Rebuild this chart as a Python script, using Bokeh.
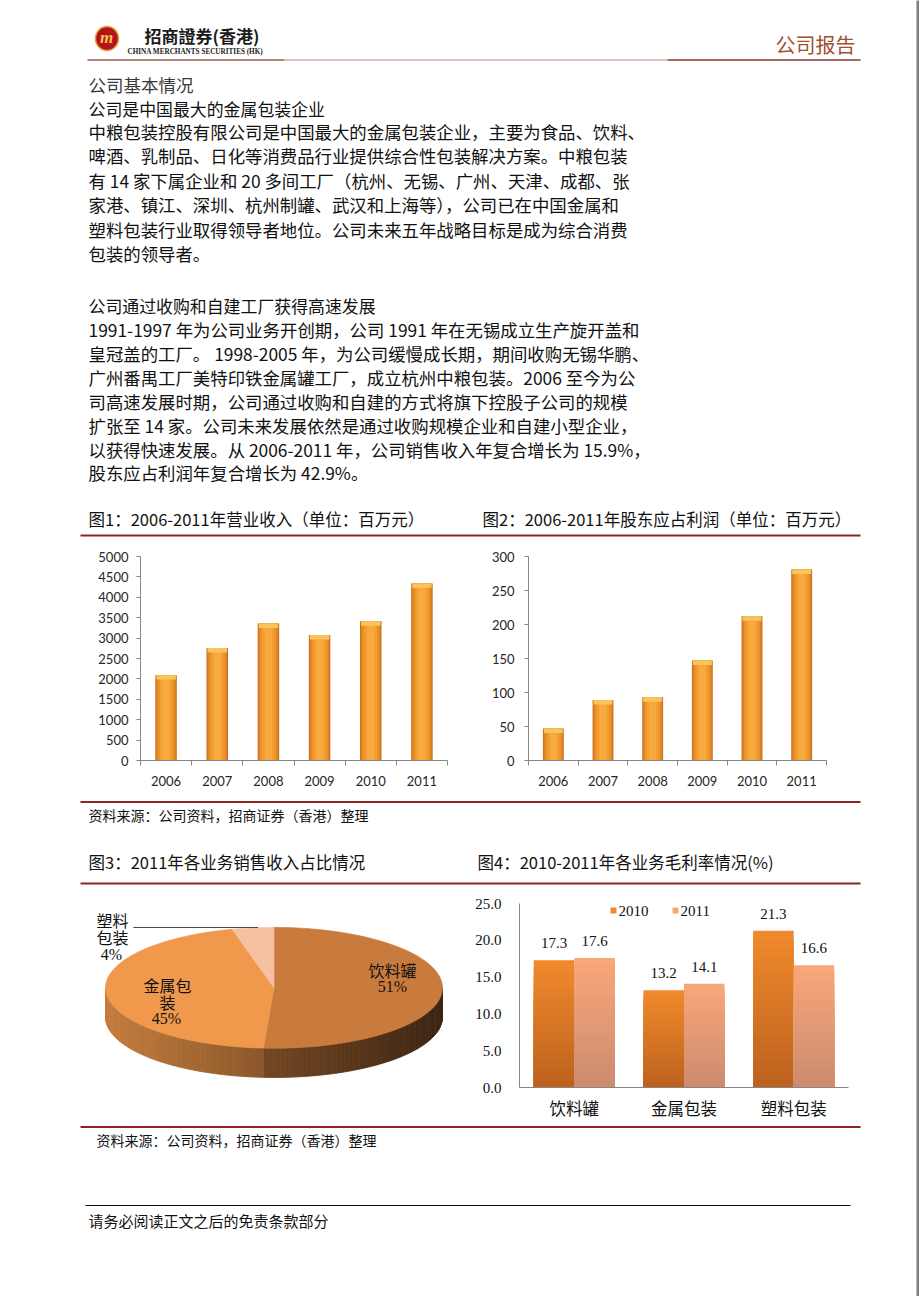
import numpy as np
from bokeh.plotting import figure
from bokeh.models import Range1d, FixedTicker, NumeralTickFormatter, PrintfTickFormatter, ColumnDataSource
from bokeh.layouts import column, row
from bokeh.core.properties import value
from bokeh.embed import file_html
from bokeh.resources import INLINE

CJK = "Noto Sans CJK SC"
SERIF = "Liberation Serif"
SANS = "Lato"

# ---------------- data ----------------
years = ["2006", "2007", "2008", "2009", "2010", "2011"]
revenue = [2092, 2756, 3358, 3073, 3415, 4341]          # 百万元
revenue_ticks = [0, 500, 1000, 1500, 2000, 2500, 3000, 3500, 4000, 4500, 5000]
profit = [47, 89, 93, 147, 212, 281]                    # 百万元
profit_ticks = [0, 50, 100, 150, 200, 250, 300]

pie_labels = ["饮料罐", "金属包装", "塑料包装"]
pie_shares = [51, 45, 4]

margin_cats = ["饮料罐", "金属包装", "塑料包装"]
margin_2010 = [17.3, 13.2, 21.3]
margin_2011 = [17.6, 14.1, 16.6]
margin_ticks = [0, 5, 10, 15, 20, 25]
margin_series = ["2010", "2011"]

para1_title = "公司基本情况"
para1_head = "公司是中国最大的金属包装企业"
para1 = [
    "中粮包装控股有限公司是中国最大的金属包装企业，主要为食品、饮料、",
    "啤酒、乳制品、日化等消费品行业提供综合性包装解决方案。中粮包装",
    "有 14 家下属企业和 20 多间工厂（杭州、无锡、广州、天津、成都、张",
    "家港、镇江、深圳、杭州制罐、武汉和上海等），公司已在中国金属和",
    "塑料包装行业取得领导者地位。公司未来五年战略目标是成为综合消费",
    "包装的领导者。",
]
para2_head = "公司通过收购和自建工厂获得高速发展"
para2 = [
    "1991-1997 年为公司业务开创期，公司 1991 年在无锡成立生产旋开盖和",
    "皇冠盖的工厂。 1998-2005 年，为公司缓慢成长期，期间收购无锡华鹏、",
    "广州番禺工厂美特印铁金属罐工厂，成立杭州中粮包装。2006 至今为公",
    "司高速发展时期，公司通过收购和自建的方式将旗下控股子公司的规模",
    "扩张至 14 家。公司未来发展依然是通过收购规模企业和自建小型企业，",
    "以获得快速发展。从 2006-2011 年，公司销售收入年复合增长为 15.9%，",
    "股东应占利润年复合增长为 42.9%。",
]
fig_titles = [
    "图1：2006-2011年营业收入（单位：百万元）",
    "图2：2006-2011年股东应占利润（单位：百万元）",
    "图3：2011年各业务销售收入占比情况",
    "图4：2010-2011年各业务毛利率情况(%)",
]
source_note = "资料来源：公司资料，招商证券（香港）整理"
footer_note = "请务必阅读正文之后的免责条款部分"

RED = "#8E2424"
AXIS = "#868686"
PAGE_W = 916      # content width (page x 0..916)
GRAY = "#7F7F7F"


# ---------------- helpers ----------------
def clean(p):
    for g in p.grid:
        g.visible = False
    p.outline_line_color = None
    p.background_fill_color = "white"
    p.border_fill_color = "white"
    return p


def page_fig(x0, x1, y0, y1, fill="white"):
    p = figure(width=x1 - x0, height=y1 - y0, x_range=Range1d(x0, x1), y_range=Range1d(y1, y0),
               output_backend="svg", toolbar_location=None, x_axis_location=None,
               y_axis_location=None, min_border=0)
    clean(p)
    p.background_fill_color = fill
    p.border_fill_color = fill
    return p


def txt(p, x, y, s, size, font=CJK, color="#111111", align="left", baseline="middle", style="normal"):
    p.text(x=[x], y=[y], text=[s], text_font=value(font), text_font_size=value(size),
           text_color=color, text_align=align, text_baseline=baseline, text_font_style=style)


def hline(p, x0, x1, y, color, w):
    p.line(x=[x0, x1], y=[y, y], line_color=color, line_width=w)


def lerp(c1, c2, t):
    a = [int(c1[i:i + 2], 16) for i in (1, 3, 5)]
    b = [int(c2[i:i + 2], 16) for i in (1, 3, 5)]
    return "#%02x%02x%02x" % tuple(int(round(a[k] + (b[k] - a[k]) * t)) for k in range(3))


def scale(c, f):
    a = [int(c[i:i + 2], 16) for i in (1, 3, 5)]
    return "#%02x%02x%02x" % tuple(max(0, min(255, int(round(v * f)))) for v in a)


# ---------------- band A: header + text (y 0..537) ----------------
top = page_fig(0, PAGE_W, 0, 537)
# logo
top.ellipse(x=[106.5], y=[38], width=[23], height=[24], fill_color="#B3141C",
            line_color="#E2A23A", line_width=1.5)
txt(top, 106, 37, "m", "17px", font=SERIF, color="#F6C445", align="center", style="bold italic")
txt(top, 144, 35, "招商證券(香港)", "17px", color="#1A1A1A", style="bold")
txt(top, 127, 51, "CHINA MERCHANTS SECURITIES (HK)", "7.2px", font=SERIF, color="#222222", style="bold")
hline(top, 87, 284, 59.5, "#9E5A4A", 1.5)
hline(top, 284, 667, 59.5, "#CDB0A8", 1.5)
hline(top, 667, 860, 59.5, "#8E3A2C", 1.5)
txt(top, 855, 44, "公司报告", "20px", color="#A0502D", align="right")

txt(top, 88, 84, para1_title, "17.5px", color="#3A3A3A")
txt(top, 88, 107.7, para1_head, "16.9px")
for i, line in enumerate(para1):
    txt(top, 88, 131 + i * 24.4, line, "17.4px")
txt(top, 88, 305, para2_head, "16.9px")
for i, line in enumerate(para2):
    txt(top, 88, 329 + i * 23.9, line, "17.4px")

txt(top, 88, 518.5, fig_titles[0], "16.5px")
txt(top, 482, 518.5, fig_titles[1], "16.5px")
hline(top, 80, 860, 535, RED, 2)


# ---------------- bar charts 1 & 2 ----------------
def bar_chart(W, H, fl, ft, fw, fh, cats, vals, ticks, standoff):
    n = len(cats)
    p = figure(width=W, height=H, x_range=Range1d(0, n), y_range=Range1d(0, ticks[-1]),
               output_backend="svg", toolbar_location=None)
    clean(p)
    p.min_border_left = fl
    p.min_border_top = ft
    p.min_border_right = W - fl - fw
    p.min_border_bottom = H - ft - fh
    xa = p.xaxis[0]
    xa.ticker = FixedTicker(ticks=[i + 0.5 for i in range(n)], minor_ticks=list(range(n + 1)))
    xa.major_label_overrides = {i + 0.5: c for i, c in enumerate(cats)}
    xa.major_tick_out = 0
    xa.major_tick_in = 0
    xa.minor_tick_out = 5
    xa.minor_tick_in = 0
    xa.major_label_standoff = 10
    ya = p.yaxis[0]
    ya.ticker = FixedTicker(ticks=ticks, minor_ticks=[])
    ya.formatter = NumeralTickFormatter(format="0")
    ya.major_tick_out = 4
    ya.major_tick_in = 0
    ya.minor_tick_out = 0
    ya.minor_tick_in = 0
    ya.major_label_standoff = standoff
    for ax in (xa, ya):
        ax.axis_line_color = AXIS
        ax.major_tick_line_color = AXIS
        ax.minor_tick_line_color = AXIS
        ax.major_label_text_font = SANS
        ax.major_label_text_font_size = "13px"
        ax.major_label_text_color = "#262626"
    cap = ticks[-1] / fh * 4.5
    src = ColumnDataSource(dict(x=[i + 0.5 for i in range(n)], top=vals,
                                cap_bottom=[v - cap for v in vals]))
    for w, col in [(0.42, "#C8701E"), (0.38, "#DF8424"), (0.32, "#EC922A"),
                   (0.24, "#F49E32"), (0.14, "#F9AA3E")]:
        p.vbar(x="x", top="top", bottom=0, width=w, fill_color=col, line_color=None, source=src)
    p.vbar(x="x", top="top", bottom="cap_bottom", width=0.38, fill_color="#F9C45C",
           line_color=None, source=src)
    return p


c1 = bar_chart(470, 263, 140, 18, 307, 205, years, revenue, revenue_ticks, 8)
c2 = bar_chart(PAGE_W - 470, 263, 58, 19, 298, 204, years, profit, profit_ticks, 10)

# ---------------- band C (800..885) ----------------
mid = page_fig(0, PAGE_W, 800, 885)
hline(mid, 80, 860, 801.5, RED, 2)
txt(mid, 88, 814, source_note, "14px")
txt(mid, 88, 861.5, fig_titles[2], "16.5px")
txt(mid, 477, 861.5, fig_titles[3], "16.5px")
hline(mid, 80, 860, 883, RED, 2)

# ---------------- pie (band D left, 885..1124) ----------------
pie = page_fig(0, 470, 885, 1124)
cx, cy, rx, ry, depth = 273.5, 994.5, 168.5, 78.5, 38
tops = ["#C97B3D", "#F0984B", "#F5C1A2"]
tot = float(sum(pie_shares))
bounds = np.concatenate([[0.0], np.cumsum(pie_shares)]) / tot * 2 * np.pi


def pt(t):
    return cx + rx * np.sin(t), cy - ry * np.cos(t)


sx, sy, sc = [], [], []
for i in range(len(pie_shares)):
    a, b = bounds[i], bounds[i + 1]
    lo, hi = max(a, np.pi / 2), min(b, 1.5 * np.pi)
    if hi <= lo:
        continue
    ts = np.linspace(lo, hi, max(2, int((hi - lo) / np.radians(1.5)) + 2))
    for t1, t2 in zip(ts[:-1], ts[1:]):
        x1, y1 = pt(t1)
        x2, y2 = pt(t2)
        sx.append([x1, x2, x2, x1])
        sy.append([y1, y2, y2 + depth, y1 + depth])
        f = (0.5 * (x1 + x2) - (cx - rx)) / (2 * rx)
        sc.append(scale(tops[i], 0.82 - 0.52 * f))
pie.patches(xs=sx, ys=sy, fill_color=sc, line_color=sc, line_width=0.8)

fx, fy = [], []
for i in range(len(pie_shares)):
    ts = np.linspace(bounds[i], bounds[i + 1], 80)
    px, py = pt(ts)
    fx.append([cx] + list(px))
    fy.append([cy] + list(py))
pie.patches(xs=fx, ys=fy, fill_color=tops, line_color=tops, line_width=0.6)

# leader line for the small slice
mx, my = pt(0.5 * (bounds[2] + bounds[3]))
pie.line(x=[133, mx + 5], y=[my - 0.5, my - 0.5], line_color="#404040", line_width=1)

txt(pie, 392, 971, pie_labels[0], "16px", align="center")
txt(pie, 392, 993, f"{pie_shares[0]}%", "16px", font=SERIF, align="center")
txt(pie, 167, 991, pie_labels[1][:3], "16px", align="center")
txt(pie, 167, 1013, pie_labels[1][3:], "16px", align="center")
txt(pie, 166, 1034, f"{pie_shares[1]}%", "16px", font=SERIF, align="center")
txt(pie, 112, 907, pie_labels[2][:2], "16px", align="center")
txt(pie, 112, 929, pie_labels[2][2:], "16px", align="center")
txt(pie, 111, 951, f"{pie_shares[2]}%", "16px", font=SERIF, align="center")

# ---------------- chart 4 (band D right) ----------------
W4, H4, fl4, ft4, fw4, fh4 = PAGE_W - 470, 239, 49, 18, 329, 184
n4 = len(margin_cats)
c4 = figure(width=W4, height=H4, x_range=Range1d(0, n4), y_range=Range1d(0, margin_ticks[-1]),
            output_backend="svg", toolbar_location=None)
clean(c4)
c4.min_border_left = fl4
c4.min_border_top = ft4
c4.min_border_right = W4 - fl4 - fw4
c4.min_border_bottom = H4 - ft4 - fh4
xa = c4.xaxis[0]
xa.ticker = FixedTicker(ticks=[i + 0.5 for i in range(n4)], minor_ticks=[])
xa.major_label_overrides = {i + 0.5: c for i, c in enumerate(margin_cats)}
xa.major_label_text_font = CJK
xa.major_label_text_font_size = "16.5px"
xa.major_label_standoff = 8
ya = c4.yaxis[0]
ya.ticker = FixedTicker(ticks=margin_ticks, minor_ticks=[])
ya.formatter = PrintfTickFormatter(format="%.1f")
ya.major_label_text_font = SERIF
ya.major_label_text_font_size = "15px"
ya.major_label_standoff = 18
for ax in (xa, ya):
    ax.axis_line_color = AXIS
    ax.major_tick_out = 0
    ax.major_tick_in = 0
    ax.minor_tick_out = 0
    ax.minor_tick_in = 0
    ax.major_label_text_color = "#111111"

dodge = 0.185
bw = 0.37
grad = {"2010": ("#F08A2C", "#BC611E"), "2011": ("#F9A77A", "#CC8B6E")}
N = 18
for name, vals, off in [("2010", margin_2010, -dodge), ("2011", margin_2011, dodge)]:
    ctop, cbot = grad[name]
    xs = [i + 0.5 + off for i in range(n4)]
    for k in range(N - 1, -1, -1):
        col = lerp(cbot, ctop, (k + 0.5) / N)
        c4.vbar(x=xs, top=[v * (k + 1) / N for v in vals], bottom=0, width=bw,
                fill_color=col, line_color=None)
    c4.text(x=xs, y=vals, text=[f"{v:.1f}" for v in vals], y_offset=-17,
            text_font=value(SERIF), text_font_size=value("15px"), text_color="#111111",
            text_align="center", text_baseline="middle")

# legend (drawn manually, frame-relative placement)
px_per_x = fw4 / n4
px_per_y = fh4 / margin_ticks[-1]
leg_y = (1087 - 910) / px_per_y
for name, sq_px, tx_px in [("2010", 613, 618), ("2011", 675, 680)]:
    c4.scatter(x=[(sq_px - 519) / px_per_x], y=[leg_y], marker="square", size=6,
               fill_color=grad[name][0], line_color=None)
    c4.text(x=[(tx_px - 519) / px_per_x], y=[leg_y], text=[name], text_font=value(SERIF),
            text_font_size=value("15px"), text_color="#111111", text_align="left",
            text_baseline="middle")

# ---------------- band E (1124..1296) ----------------
bot = page_fig(0, PAGE_W, 1124, 1296)
hline(bot, 80, 860, 1126.5, RED, 2)
txt(bot, 96, 1139, source_note, "14px")
hline(bot, 85, 850, 1205, "#111111", 1)
txt(bot, 88, 1220, footer_note, "15px")

content = column(
    top,
    row(c1, c2, spacing=0),
    mid,
    row(pie, c4, spacing=0),
    bot,
    spacing=0,
)

# page shadow (gray edges at right and bottom of the page image)
edge_r = page_fig(PAGE_W, PAGE_W + 3, 0, 1296, fill=GRAY)
edge_b = page_fig(0, PAGE_W + 3, 1296, 1299, fill=GRAY)

layout = column(row(content, edge_r, spacing=0), edge_b, spacing=0)

open("out.html", "w").write(file_html(layout, INLINE))
